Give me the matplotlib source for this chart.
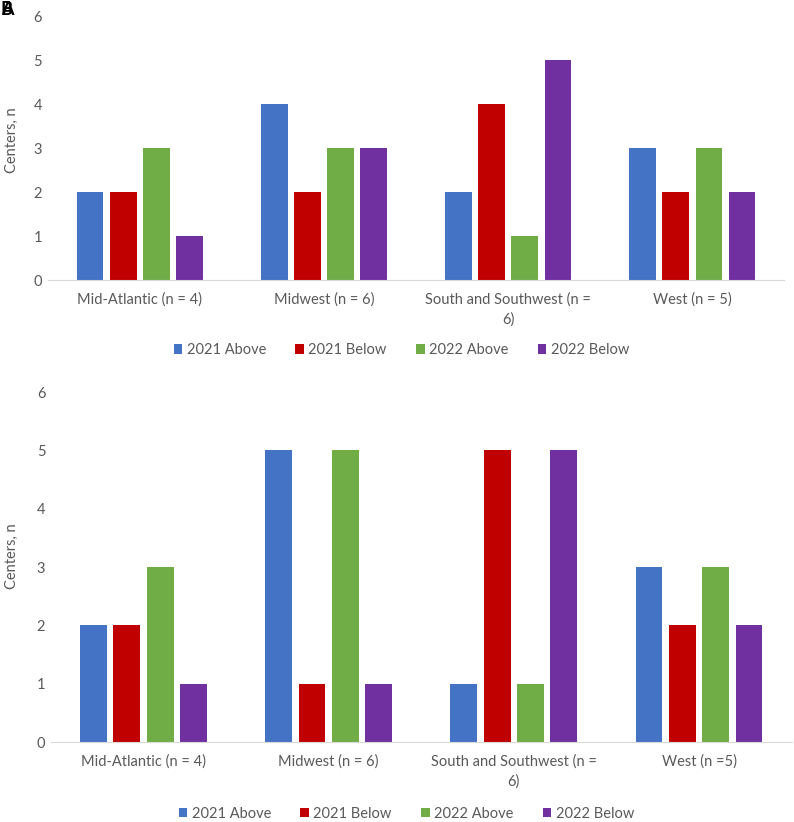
import matplotlib.pyplot as plt
import numpy as np

plt.rcParams["font.family"] = ["Lato", "DejaVu Sans"]

regions_top = ["Mid-Atlantic (n = 4)", "Midwest (n = 6)",
               "South and Southwest (n =\n6)", "West (n = 5)"]
regions_bottom = ["Mid-Atlantic (n = 4)", "Midwest (n = 6)",
                  "South and Southwest (n =\n6)", "West (n =5)"]
series = ["2021 Above", "2021 Below", "2022 Above", "2022 Below"]
colors = ["#4472C4", "#C00000", "#70AD47", "#7030A0"]

top_values = [
    [2, 4, 2, 3],  # 2021 Above
    [2, 2, 4, 2],  # 2021 Below
    [3, 3, 1, 3],  # 2022 Above
    [1, 3, 5, 2],  # 2022 Below
]
bottom_values = [
    [2, 5, 1, 3],
    [2, 1, 5, 2],
    [3, 5, 1, 3],
    [1, 1, 5, 2],
]

grey = "#595959"


def draw(ax, labels, values, legend_y, label_x):
    x = np.arange(len(labels))
    step = 0.18
    width = 0.145
    for i, (name, vals) in enumerate(zip(series, values)):
        ax.bar(x + (i - 1.5) * step, vals, width, color=colors[i], label=name)
    ax.set_xlim(-0.5, len(labels) - 0.5)
    ax.set_ylim(0, 6)
    ax.set_yticks(range(7))
    ax.set_xticks(x)
    ax.set_xticklabels(labels, linespacing=1.5)
    ax.tick_params(axis="both", length=0, colors=grey, labelsize=10.5)
    ax.tick_params(axis="y", pad=4)
    ax.tick_params(axis="x", pad=9)
    for s in ["top", "right", "left"]:
        ax.spines[s].set_visible(False)
    ax.spines["bottom"].set_color("#D9D9D9")
    ax.set_ylabel("Centers, n", color=grey, fontsize=10.5)
    ax.yaxis.set_label_coords(label_x, 0.53)
    ax.legend(loc="center", bbox_to_anchor=(0.48, legend_y), ncol=4,
              frameon=False, fontsize=10.5, labelcolor=grey, handlelength=0.6,
              handleheight=0.6, columnspacing=2.0, handletextpad=0.3)


fig = plt.figure(figsize=(7.94, 8.22), dpi=100)
ax1 = fig.add_axes([0.060, 0.659, 0.928, 0.3212])
ax2 = fig.add_axes([0.064, 0.0973, 0.933, 0.4258])
draw(ax1, regions_top, top_values, -0.265, -0.039)
draw(ax2, regions_bottom, bottom_values, -0.205, -0.043)

fig.text(0.001, 0.999, "A", fontsize=13, fontweight="bold", va="top")
fig.text(0.001, 0.999, "B", fontsize=13, fontweight="bold", va="top")

fig.savefig("out.png", dpi=100)
